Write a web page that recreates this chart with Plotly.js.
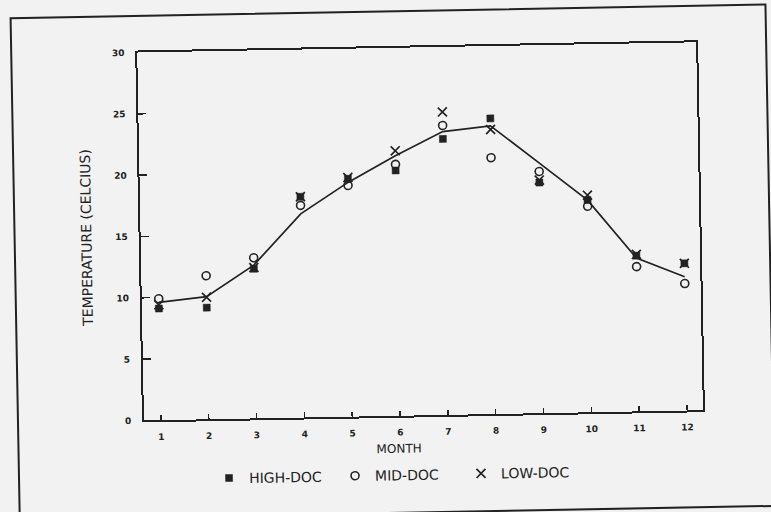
<!DOCTYPE html>
<html>
<head>
<meta charset="utf-8">
<script src="https://cdn.plot.ly/plotly-3.0.1.min.js"></script>
<style>
  html, body { margin: 0; padding: 0; background: #f2f2f2; overflow: hidden; width: 771px; height: 512px; }
  #chart { position: absolute; left: -20px; top: -20px; width: 811px; height: 552px; transform: rotate(-1.05deg); }
</style>
</head>
<body>
<div id="chart"></div>
<script>
// Month numbers
var months = [1, 2, 3, 4, 5, 6, 7, 8, 9, 10, 11, 12];
// Series values (temperature, Celsius)
var highDoc = [9.1, 9.1, 12.2, 18.0, 19.4, 20.0, 22.5, 24.1, 18.8, 17.3, 12.7, 12.0];
var midDoc  = [9.9, 11.7, 13.1, 17.3, 18.85, 20.5, 23.6, 20.9, 19.7, 16.8, 11.8, 10.35];
var lowDoc  = [9.4, 9.95, 12.3, 18.0, 19.5, 21.6, 24.7, 23.2, 19.0, 17.7, 12.8, 12.0];
var fitLine = [9.6, 10.0, 12.5, 16.6, 19.1, 21.2, 23.1, 23.5, 20.4, 17.3, 12.5, 10.9];
// Tick labels
var xTicks = [1, 2, 3, 4, 5, 6, 7, 8, 9, 10, 11, 12];
var yTicks = [0, 5, 10, 15, 20, 25, 30];

var ink = '#222222';

var traces = [
  { x: months, y: fitLine, mode: 'lines', line: { color: ink, width: 1.7 }, showlegend: false, hoverinfo: 'skip' },
  { x: months, y: highDoc, mode: 'markers', name: 'HIGH-DOC',
    marker: { symbol: 'square', size: 7, color: ink, line: { color: ink, width: 0.5 } } },
  { x: months, y: midDoc, mode: 'markers', name: 'MID-DOC',
    marker: { symbol: 'circle-open', size: 8, color: ink, line: { color: ink, width: 1.6 } } },
  { x: months, y: lowDoc, mode: 'markers', name: 'LOW-DOC',
    marker: { symbol: 'x-thin-open', size: 9, color: ink, line: { color: ink, width: 1.7 } } }
];

var tickFont = { family: 'DejaVu Sans', size: 9, color: ink, weight: 'bold' };

var layout = {
  width: 811, height: 552,
  margin: { l: 161, r: 91, t: 68, b: 116, pad: 0 },
  paper_bgcolor: '#f2f2f2',
  plot_bgcolor: '#f2f2f2',
  showlegend: true,
  font: { family: 'DejaVu Sans', color: ink },
  xaxis: {
    range: [0.645, 12.33],
    tickmode: 'array', tickvals: xTicks, ticktext: xTicks.map(String),
    ticks: 'inside', ticklen: 5, tickwidth: 1.5, tickcolor: ink,
    showline: true, linecolor: ink, linewidth: 2, mirror: true,
    showgrid: false, zeroline: false,
    tickfont: tickFont, ticklabelstandoff: 7
  },
  yaxis: {
    range: [0, 30],
    tickmode: 'array', tickvals: yTicks, ticktext: yTicks.map(String),
    ticks: 'inside', ticklen: 8, tickwidth: 1.5, tickcolor: ink,
    showline: true, linecolor: ink, linewidth: 2, mirror: true,
    showgrid: false, zeroline: false,
    tickfont: tickFont, ticklabelstandoff: 9,
    title: { text: 'TEMPERATURE (CELCIUS)', font: { family: 'DejaVu Sans', size: 14, color: ink }, standoff: 20 }
  },
  legend: {
    orientation: 'h', x: 0.1145, xanchor: 'left', y: -0.1617, yanchor: 'middle',
    bgcolor: 'rgba(0,0,0,0)', borderwidth: 0,
    font: { family: 'DejaVu Sans', size: 14, color: ink },
    entrywidth: 81, entrywidthmode: 'pixels'
  },
  annotations: [
    { text: 'MONTH', xref: 'paper', yref: 'paper', x: 0.4553, y: -0.0902,
      xanchor: 'center', yanchor: 'middle', showarrow: false,
      font: { family: 'DejaVu Sans', size: 12, color: ink } }
  ],
  shapes: [
    { type: 'rect', xref: 'paper', yref: 'paper', x0: -0.2254, x1: 1.1252, y0: -0.2636, y1: 1.0992,
      line: { color: ink, width: 2 }, fillcolor: 'rgba(0,0,0,0)', layer: 'below' }
  ]
};

Plotly.newPlot('chart', traces, layout, { displayModeBar: false, staticPlot: true });
</script>
</body>
</html>
